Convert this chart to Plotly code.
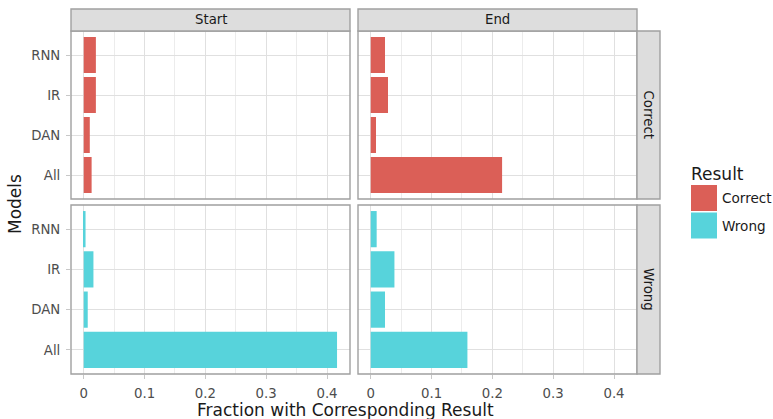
import plotly.graph_objects as go

W, H = 773, 419

models = ["All", "DAN", "IR", "RNN"]
positions = ["Start", "End"]
results = ["Correct", "Wrong"]
colors = {"Correct": "#db5f57", "Wrong": "#57d3db"}

start_correct = [0.013, 0.010, 0.020, 0.020]
start_wrong = [0.4165, 0.0066, 0.016, 0.003]
end_correct = [0.216, 0.0087, 0.0284, 0.0235]
end_wrong = [0.159, 0.0235, 0.039, 0.0098]

x_ticks = [0, 0.1, 0.2, 0.3, 0.4]
x_tick_labels = ["0", "0.1", "0.2", "0.3", "0.4"]
x_minor = [0.05, 0.15, 0.25, 0.35]

data = {
    ("Start", "Correct"): start_correct,
    ("End", "Correct"): end_correct,
    ("Start", "Wrong"): start_wrong,
    ("End", "Wrong"): end_wrong,
}

def px_x(p):
    return p / W

def px_y(p):
    return 1 - p / H

col_px = {"Start": (71, 350), "End": (358, 637)}
row_px = {"Correct": (31, 199), "Wrong": (205, 374)}

fig = go.Figure()
layout = {}
shapes = []
annotations = []

FONT = "DejaVu Sans"
GRID = "#e0e0e0"
BORDER = "#a0a0a0"
TICKC = "#4d4d4d"
TICKSIZE = 13.3
STRIPSIZE = 13.3
LEGSIZE = 13.6
TITLESIZE = 17

idx = 0
for r in results:
    for c in positions:
        idx += 1
        xa = "xaxis" if idx == 1 else f"xaxis{idx}"
        ya = "yaxis" if idx == 1 else f"yaxis{idx}"
        xr = "x" if idx == 1 else f"x{idx}"
        yr = "y" if idx == 1 else f"y{idx}"
        x0, x1 = col_px[c]
        y0, y1 = row_px[r]
        fig.add_trace(go.Bar(
            x=data[(c, r)], y=models, orientation="h", width=0.9,
            marker=dict(color=colors[r], line=dict(width=0)),
            xaxis=xr, yaxis=yr, showlegend=False, name=r,
        ))
        bottom = (r == "Wrong")
        left = (c == "Start")
        layout[xa] = dict(
            domain=[px_x(x0), px_x(x1)], anchor=yr,
            range=[-0.0209, 0.4378], tickvals=x_ticks,
            ticktext=x_tick_labels, showticklabels=bottom,
            ticks="outside" if bottom else "", ticklen=4, tickcolor="#c8c8c8",
            ticklabelstandoff=3,
            tickfont=dict(family=FONT, size=TICKSIZE, color=TICKC),
            showgrid=True, gridcolor=GRID, gridwidth=1, zeroline=False,
            minor=dict(tickvals=x_minor, showgrid=True, gridcolor="#ececec", gridwidth=0.7, ticks=""),
            showline=False, fixedrange=True,
        )
        layout[ya] = dict(
            domain=[px_y(y1), px_y(y0)], anchor=xr,
            type="category", categoryorder="array", categoryarray=models,
            range=[-0.6, 3.6], showticklabels=left,
            ticks="outside" if left else "", ticklen=4, tickcolor="#c8c8c8",
            ticklabelstandoff=3,
            tickfont=dict(family=FONT, size=TICKSIZE, color=TICKC),
            showgrid=True, gridcolor=GRID, gridwidth=1, zeroline=False,
            showline=False, fixedrange=True,
        )
        # panel border
        shapes.append(dict(type="rect", xref="paper", yref="paper",
                           x0=px_x(x0), x1=px_x(x1), y0=px_y(y1), y1=px_y(y0),
                           line=dict(color=BORDER, width=1.4), fillcolor="rgba(0,0,0,0)", layer="above"))

# strips on top
for c in positions:
    x0, x1 = col_px[c]
    shapes.append(dict(type="rect", xref="paper", yref="paper",
                       x0=px_x(x0), x1=px_x(x1), y0=px_y(31), y1=px_y(9),
                       line=dict(color=BORDER, width=1.4), fillcolor="#dddddd"))
    annotations.append(dict(text=c, xref="paper", yref="paper",
                            x=px_x((x0 + x1) / 2), y=px_y(20), showarrow=False,
                            font=dict(family=FONT, size=STRIPSIZE, color="#1a1a1a"),
                            xanchor="center", yanchor="middle"))
# strips on right
for r in results:
    y0, y1 = row_px[r]
    shapes.append(dict(type="rect", xref="paper", yref="paper",
                       x0=px_x(637), x1=px_x(660), y0=px_y(y1), y1=px_y(y0),
                       line=dict(color=BORDER, width=1.4), fillcolor="#dddddd"))
    annotations.append(dict(text=r, xref="paper", yref="paper",
                            x=px_x(648.5), y=px_y((y0 + y1) / 2), showarrow=False,
                            textangle=90,
                            font=dict(family=FONT, size=STRIPSIZE, color="#1a1a1a"),
                            xanchor="center", yanchor="middle"))

# axis titles
annotations.append(dict(text="Fraction with Corresponding Result", xref="paper", yref="paper",
                        x=px_x(345), y=px_y(410), showarrow=False,
                        font=dict(family=FONT, size=TITLESIZE, color="#1a1a1a"),
                        xanchor="center", yanchor="middle"))
annotations.append(dict(text="Models", xref="paper", yref="paper",
                        x=px_x(15), y=px_y(204), showarrow=False, textangle=-90,
                        font=dict(family=FONT, size=TITLESIZE, color="#1a1a1a"),
                        xanchor="center", yanchor="middle"))

# legend (drawn manually)
annotations.append(dict(text="Result", xref="paper", yref="paper",
                        x=px_x(689), y=px_y(174), showarrow=False,
                        font=dict(family=FONT, size=TITLESIZE, color="#1a1a1a"),
                        xanchor="left", yanchor="middle"))
key_rows = [(185, 211), (212.5, 238.5)]
for r, (ky0, ky1) in zip(results, key_rows):
    shapes.append(dict(type="rect", xref="paper", yref="paper",
                       x0=px_x(691), x1=px_x(717), y0=px_y(ky1), y1=px_y(ky0),
                       line=dict(width=0), fillcolor=colors[r]))
    annotations.append(dict(text=r, xref="paper", yref="paper",
                            x=px_x(720), y=px_y((ky0 + ky1) / 2), showarrow=False,
                            font=dict(family=FONT, size=LEGSIZE, color="#1a1a1a"),
                            xanchor="left", yanchor="middle"))

fig.update_layout(
    width=W, height=H,
    margin=dict(l=0, r=0, t=0, b=0),
    paper_bgcolor="white", plot_bgcolor="white",
    bargap=0.1, showlegend=False,
    shapes=shapes, annotations=annotations,
    font=dict(family=FONT),
    **layout,
)

fig.write_html("out.html", config={"displayModeBar": False},
               post_script="document.body.style.margin='0';document.body.style.overflow='hidden';")
